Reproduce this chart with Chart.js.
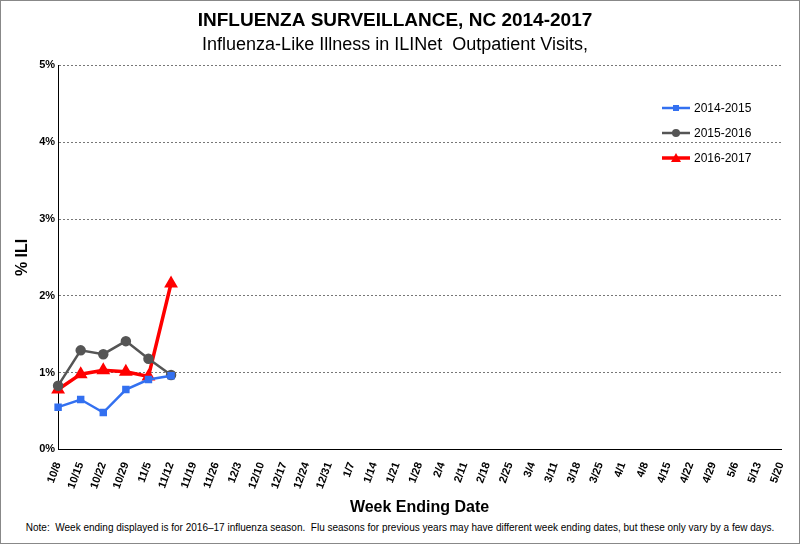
<!DOCTYPE html>
<html><head><meta charset="utf-8">
<script src="https://cdn.jsdelivr.net/npm/chart.js@4"></script>
<style>
html,body{margin:0;padding:0;background:#fff;}
#wrap{position:absolute;left:0;top:0;width:798px;height:542px;border:1px solid #888;}
#note{position:absolute;left:0;width:800px;top:522px;text-align:center;font:10px Arial,"Liberation Sans",sans-serif;}
#legend{position:absolute;left:662px;top:95px;font:12px Arial,"Liberation Sans",sans-serif;}
#legend div{height:25px;display:flex;align-items:center;}
#legend svg{margin-right:4px;}
</style></head><body>
<div id="wrap"><canvas id="c" width="798" height="520"></canvas></div>
<div id="legend">
  <div><svg width="28" height="10"><line x1="0" y1="5" x2="28" y2="5" stroke="#3370f0" stroke-width="2.5"/><rect x="11" y="2" width="6" height="6" fill="#3370f0"/></svg>2014-2015</div>
  <div><svg width="28" height="10"><line x1="0" y1="5" x2="28" y2="5" stroke="#555" stroke-width="2.5"/><circle cx="14" cy="5" r="4" fill="#555"/></svg>2015-2016</div>
  <div><svg width="28" height="10"><line x1="0" y1="5" x2="28" y2="5" stroke="#f00" stroke-width="3.5"/><polygon points="14,0 19,9 9,9" fill="#f00"/></svg>2016-2017</div>
</div>
<div id="note">Note:&nbsp; Week ending displayed is for 2016–17 influenza season.&nbsp; Flu seasons for previous years may have different week ending dates, but these only vary by a few days.</div>
<script>
const weeks = ['10/8','10/15','10/22','10/29','11/5','11/12','11/19','11/26','12/3','12/10','12/17','12/24','12/31','1/7','1/14','1/21','1/28','2/4','2/11','2/18','2/25','3/4','3/11','3/18','3/25','4/1','4/8','4/15','4/22','4/29','5/6','5/13','5/20'];
const s1415 = [0.55, 0.65, 0.48, 0.78, 0.91, 0.96];
const s1516 = [0.83, 1.29, 1.24, 1.41, 1.18, 0.97];
const s1617 = [0.78, 0.98, 1.03, 1.01, 0.95, 2.16];

new Chart(document.getElementById('c'), {
  type: 'line',
  data: {
    labels: weeks,
    datasets: [
      {label: '2014-2015', data: s1415, borderColor: '#3370f0', backgroundColor: '#3370f0', pointStyle: 'rect', pointRadius: 3.5, borderWidth: 2.5},
      {label: '2015-2016', data: s1516, borderColor: '#555555', backgroundColor: '#555555', pointStyle: 'circle', pointRadius: 4, borderWidth: 2.5},
      {label: '2016-2017', data: s1617, borderColor: '#ff0000', backgroundColor: '#ff0000', pointStyle: 'triangle', pointRadius: 4.5, borderWidth: 3.5}
    ]
  },
  options: {
    responsive: false, animation: false,
    layout: {padding: {left: 8, right: 18, top: 0, bottom: 0}},
    plugins: {
      title: {display: true, text: 'INFLUENZA SURVEILLANCE, NC 2014-2017', color: '#000',
        font: {family: 'Arial, Liberation Sans', size: 19, weight: 'bold'}, padding: {top: 8, bottom: 0}},
      subtitle: {display: true, text: 'Influenza-Like Illness in ILINet  Outpatient Visits,', color: '#000',
        font: {family: 'Arial, Liberation Sans', size: 18}, padding: {top: 2, bottom: 10}},
      legend: {display: false},
      tooltip: {enabled: false}
    },
    scales: {
      x: {offset: false, grid: {display: false}, border: {color: '#000'},
        ticks: {autoSkip: false, maxRotation: 70, minRotation: 70, color: '#000', font: {family: 'Arial, Liberation Sans', size: 11, weight: 'bold'}},
        title: {display: true, text: 'Week Ending Date', color: '#000', font: {family: 'Arial, Liberation Sans', size: 16, weight: 'bold'}}},
      y: {min: 0, max: 5, border: {color: '#000', dash: [2, 2]},
        grid: {color: '#777', tickLength: 0},
        ticks: {stepSize: 1, color: '#000', callback: v => v + '%', font: {family: 'Arial, Liberation Sans', size: 11, weight: 'bold'}},
        title: {display: true, text: '% ILI', color: '#000', font: {family: 'Arial, Liberation Sans', size: 16, weight: 'bold'}}}
    }
  }
});
</script>
</body></html>
